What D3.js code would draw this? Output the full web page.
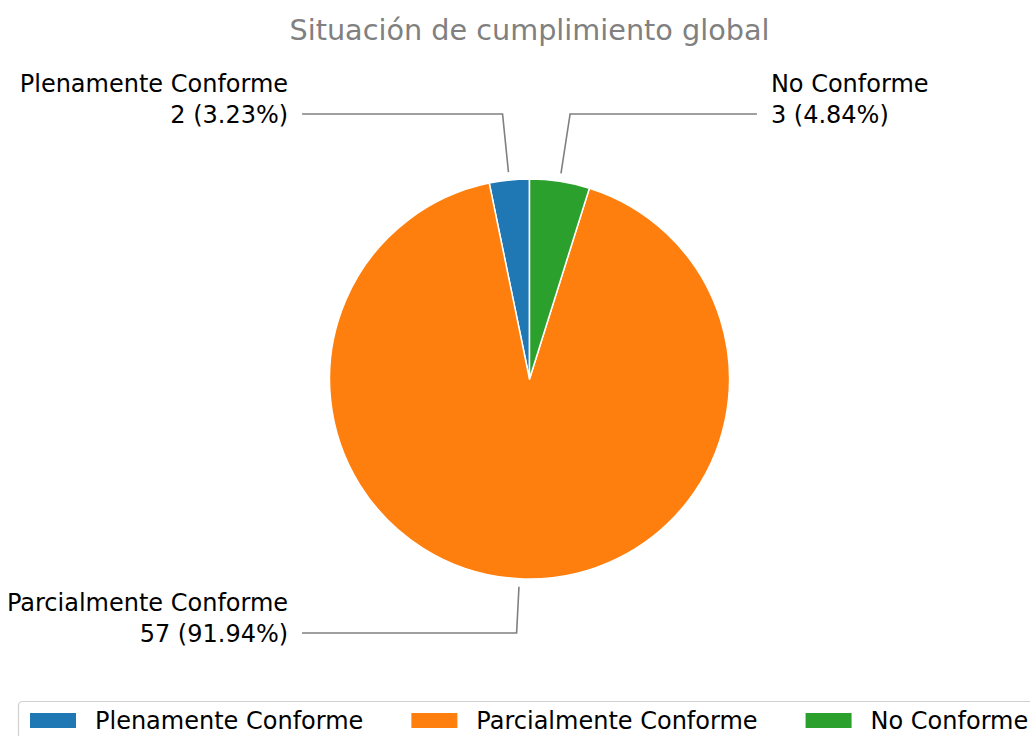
<!DOCTYPE html>
<html>
<head>
<meta charset="utf-8">
<script src="https://cdn.jsdelivr.net/npm/d3@7"></script>
<style>
  body { margin: 0; background: #fff; }
  svg { display: block; font-family: "DejaVu Sans", sans-serif; }
</style>
</head>
<body>
<div id="chart"></div>
<script>
var categories = ["Plenamente Conforme", "Parcialmente Conforme", "No Conforme"];
var counts = [2, 57, 3];
var colors = ["#1f77b4", "#ff7f0e", "#2ca02c"];
var title = "Situación de cumplimiento global";

var width = 1030,
    height = 736,
    cx = 529.5,
    cy = 379,
    radius = 200;

var svg = d3.select("#chart").append("svg")
    .attr("width", width)
    .attr("height", height);

svg.append("text")
    .attr("x", cx)
    .attr("y", 40)
    .attr("text-anchor", "middle")
    .attr("fill", "#808080")
    .style("font-size", "28.7px")
    .text(title);

var total = d3.sum(counts);
var data = categories.map(function(c, i) {
  return {name: c, value: counts[i], color: colors[i]};
});

// counterclockwise from 12 o'clock, like matplotlib startangle=90
var pie = d3.pie()
    .sort(null)
    .value(function(d) { return d.value; })
    .startAngle(0)
    .endAngle(-2 * Math.PI);

var arc = d3.arc().innerRadius(0).outerRadius(radius);

var g = svg.append("g").attr("transform", "translate(" + cx + "," + cy + ")");

var arcs = pie(data);

g.selectAll("path.slice")
    .data(arcs)
  .enter().append("path")
    .attr("class", "slice")
    .attr("d", arc)
    .attr("fill", function(d) { return d.data.color; })
    .attr("stroke", "#fff")
    .attr("stroke-width", 1.5)
    .attr("stroke-linejoin", "round");

// leader lines + labels
arcs.forEach(function(d) {
  var a = (d.startAngle + d.endAngle) / 2;
  var sx = Math.sin(a), sy = -Math.cos(a);
  var p0 = [sx * radius * 1.04, sy * radius * 1.04];
  var ly = sy < 0 ? -1.325 * radius : 1.27 * radius;
  var ex = p0[0] * ly / p0[1];
  var side = sx < 0 ? -1 : 1;
  var hx = side * 1.137 * radius;

  g.append("path")
      .attr("d", d3.line()([p0, [ex, ly], [hx, ly]]))
      .attr("fill", "none")
      .attr("stroke", "#808080")
      .attr("stroke-width", 1.6);

  var pct = (d.data.value / total * 100).toFixed(2);
  var t = g.append("text")
      .attr("text-anchor", side < 0 ? "end" : "start")
      .attr("fill", "#000")
      .style("font-size", "24px");
  var tx = hx + side * 14;
  t.append("tspan").attr("x", tx).attr("y", ly - 22).text(d.data.name);
  t.append("tspan").attr("x", tx).attr("y", ly + 8.5).text(d.data.value + " (" + pct + "%)");
});

// legend (runs past the right edge, as in the original)
var legend = svg.append("g");
legend.append("rect")
    .attr("x", 18.5)
    .attr("y", 701.5)
    .attr("width", 1023)
    .attr("height", 60)
    .attr("rx", 4)
    .attr("fill", "#fff")
    .attr("stroke", "#d0d0d0")
    .attr("stroke-width", 1.2);

var lx = 30;
data.forEach(function(d) {
  legend.append("rect")
      .attr("x", lx)
      .attr("y", 713)
      .attr("width", 46)
      .attr("height", 15)
      .attr("fill", d.color);
  var t = legend.append("text")
      .attr("x", lx + 65)
      .attr("y", 729)
      .attr("fill", "#000")
      .style("font-size", "24px")
      .text(d.name);
  lx = lx + 65 + t.node().getComputedTextLength() + 48;
});
</script>
</body>
</html>
